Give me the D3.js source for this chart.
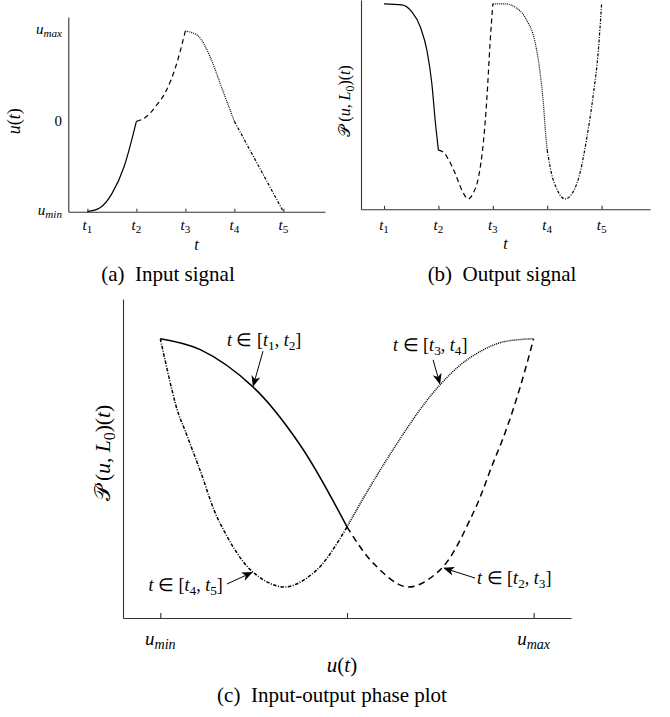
<!DOCTYPE html>
<html>
<head>
<meta charset="utf-8">
<script src="https://cdn.jsdelivr.net/npm/d3@7"></script>
<style>
	body { margin: 0; background: #fff; }
	text { font-family: "Liberation Serif", "Times New Roman", serif; fill: #000; }
</style>
</head>
<body>
<svg id="svg" width="670" height="717"></svg>
<script>
"use strict";

// ---- data ----
// time ticks t1..t5 and input levels umin, 0, umax (umin = -1, umax = 1)
const tTicks = [1, 2, 3, 4, 5];
const uTicks = [-1, 0, 1];
const uTickNames = [["u", "min"], ["0", null], ["u", "max"]];

// (a) input signal u(t), one array per interval
const inT12 = [1, 1.25, 1.5, 1.75, 2];
const inU12 = [-1, -0.96, -0.8, -0.5, 0];
const inT23 = [2, 2.2, 2.4, 2.6, 2.8, 3];
const inU23 = [0, 0.05, 0.17, 0.33, 0.6, 1];
const inT34 = [3, 3.25, 3.5, 3.75, 4];
const inU34 = [1, 0.95, 0.72, 0.36, 0];
const inT45 = [4, 5];
const inU45 = [0, -1];

// (b) output signal P(u,L0)(t), normalised 0 (min) .. 1 (max)
const outT12 = [1, 1.33, 1.51, 1.67, 1.79, 1.88, 1.94, 2];
const outP12 = [1, 0.995, 0.96, 0.88, 0.76, 0.59, 0.405, 0.25];
const outT23 = [2, 2.09, 2.19, 2.31, 2.43, 2.55, 2.64, 2.74, 2.83, 2.89, 2.95, 3];
const outP23 = [0.25, 0.24, 0.2, 0.13, 0.046, 0, 0.03, 0.115, 0.3, 0.51, 0.8, 1];
const outT34 = [3, 3.23, 3.44, 3.62, 3.78, 3.87, 3.93, 3.97, 4];
const outP34 = [1, 1, 0.978, 0.918, 0.8, 0.646, 0.49, 0.337, 0.25];
const outT45 = [4, 4.08, 4.17, 4.33, 4.48, 4.6, 4.72, 4.85, 4.94, 5];
const outP45 = [0.25, 0.13, 0.055, 0, 0.038, 0.13, 0.3, 0.54, 0.76, 1];

// (c) phase plot, P against u, one array pair per interval
const phU12 = [-1, -0.786, -0.504, -0.252, 0];
const phP12 = [1, 0.956, 0.806, 0.573, 0.242];
const phU23 = [0, 0.139, 0.322, 0.499, 0.676, 0.783, 0.847, 0.928, 1];
const phP23 = [0.242, 0.097, 0, 0.069, 0.298, 0.5, 0.621, 0.806, 1];
const phU34 = [0, 0.123, 0.257, 0.391, 0.499, 0.643, 0.82, 1];
const phP34 = [0.242, 0.403, 0.565, 0.714, 0.815, 0.915, 0.984, 1];
const phU45 = [-1, -0.91, -0.869, -0.788, -0.681, -0.504, -0.332, -0.161, 0];
const phP45 = [1, 0.714, 0.633, 0.472, 0.258, 0.06, 0, 0.069, 0.242];

// line style per interval: [t1,t2] solid, [t2,t3] dashed, [t3,t4] dotted, [t4,t5] dash-dot
const intervals = ["12", "23", "34", "45"];

const svg = d3.select("#svg");
svg.append("rect").attr("width", 670).attr("height", 717).attr("fill", "#fff");

// text with italic / subscript pieces
// kinds: i = italic, r = roman, s = roman subscript, si = italic subscript
function mathText(g, parts, size) {
	const txt = g.append("text").attr("font-size", size);
	const drop = size * 0.22;
	let low = false;
	parts.forEach(([s, k]) => {
		const sub = k === "s" || k === "si";
		const ts = txt
			.append("tspan")
			.text(s)
			.attr("font-style", k === "i" || k === "si" ? "italic" : "normal");
		if (sub) {
			ts.attr("font-size", size * 0.74);
			if (!low) ts.attr("dy", drop);
		} else if (low) {
			ts.attr("dy", -drop);
		}
		low = sub;
	});
	return txt;
}

const pLabel = [["\u{1D4AB}\u2009", "r"], ["(", "r"], ["u", "i"], [", ", "r"], ["L", "i"], ["0", "s"], [")(", "r"], ["t", "i"], [")", "r"]];

function dashFor(key, big) {
	if (key === "12") return null;
	if (key === "23") return big ? "6.5,4.5" : "5,3.5";
	if (key === "34") return "1,1";
	return big ? "3.5,1.5,1,1.5" : "3,1.5,1,1.5";
}

function drawAxes(g, x, y, xt, tickLen) {
	g.append("g")
		.attr("transform", `translate(0,${y.range()[0]})`)
		.call(d3.axisBottom(x).tickValues(xt).tickSizeInner(-tickLen).tickSizeOuter(0).tickFormat(""))
		.call((a) => a.selectAll("path,line").attr("stroke", "#333").attr("stroke-width", 1.1));
	g.append("g")
		.attr("transform", `translate(${x.range()[0]},0)`)
		.call(d3.axisLeft(y).tickValues([]).tickSizeOuter(0))
		.call((a) => a.selectAll("path").attr("stroke", "#333").attr("stroke-width", 1.1));
}

function drawSeg(g, xs, ys, x, y, key, width, big, curve) {
	const pts = xs.map((v, i) => [v, ys[i]]).sort((a, b) => a[0] - b[0]);
	const line = d3
		.line()
		.x((d) => x(d[0]))
		.y((d) => y(d[1]))
		.curve(curve);
	g.append("path")
		.datum(pts)
		.attr("d", line)
		.attr("fill", "none")
		.attr("stroke", "#000")
		.attr("stroke-width", width)
		.attr("stroke-dasharray", dashFor(key, big));
}

// ---- (a) input signal ----
const xa = d3.scaleLinear().domain([0.61, 5.85]).range([68.3, 325]);
const ya = d3.scaleLinear().domain([-1, 1.155]).range([211.7, 17]);
const ga = svg.append("g").attr("id", "input");
drawAxes(ga, xa, ya, tTicks, 3);
const inX = { "12": inT12, "23": inT23, "34": inT34, "45": inT45 };
const inY = { "12": inU12, "23": inU23, "34": inU34, "45": inU45 };
intervals.forEach((k) => drawSeg(ga, inX[k], inY[k], xa, ya, k, 1.2, false, d3.curveMonotoneX));

tTicks.forEach((t, i) => {
	mathText(ga, [["t", "i"], [String(i + 1), "s"]], 15)
		.attr("x", xa(t))
		.attr("y", 230)
		.attr("text-anchor", "middle");
});
uTicks.forEach((u, i) => {
	const [b, s] = uTickNames[i];
	const parts = s ? [[b, "i"], [s, "si"]] : [[b, "r"]];
	mathText(ga, parts, 15)
		.attr("x", 62)
		.attr("y", ya(u) + (s ? 3 : 5))
		.attr("text-anchor", "end");
});
mathText(ga, [["t", "i"]], 16).attr("x", 196.5).attr("y", 250).attr("text-anchor", "middle");
mathText(ga, [["u", "i"], ["(", "r"], ["t", "i"], [")", "r"]], 18)
	.attr("text-anchor", "middle")
	.attr("transform", `translate(20,${ya(0)}) rotate(-90)`);
svg.append("text").text("(a)\u2002Input signal").attr("font-size", 21).attr("x", 168).attr("y", 281).attr("text-anchor", "middle");

// ---- (b) output signal ----
const xb = d3.scaleLinear().domain([0.577, 5.89]).range([361, 650]);
const yb = d3.scaleLinear().domain([-0.053, 1.02]).range([209.3, 0]);
const gb = svg.append("g").attr("id", "output");
drawAxes(gb, xb, yb, tTicks, 3.5);
const outX = { "12": outT12, "23": outT23, "34": outT34, "45": outT45 };
const outY = { "12": outP12, "23": outP23, "34": outP34, "45": outP45 };
intervals.forEach((k) => drawSeg(gb, outX[k], outY[k], xb, yb, k, 1.2, false, d3.curveMonotoneX));

tTicks.forEach((t, i) => {
	mathText(gb, [["t", "i"], [String(i + 1), "s"]], 15)
		.attr("x", xb(t))
		.attr("y", 230)
		.attr("text-anchor", "middle");
});
mathText(gb, [["t", "i"]], 16).attr("x", 505.5).attr("y", 249).attr("text-anchor", "middle");
mathText(gb, pLabel, 16)
	.attr("text-anchor", "middle")
	.attr("transform", `translate(350,101) rotate(-90)`);
svg.append("text").text("(b)\u2002Output signal").attr("font-size", 21).attr("x", 502).attr("y", 281).attr("text-anchor", "middle");

// ---- (c) input-output phase plot ----
const xc = d3.scaleLinear().domain([-1.2, 1.2]).range([123, 571]);
const yc = d3.scaleLinear().domain([-0.125, 1.16]).range([618, 299]);
const gc = svg.append("g").attr("id", "phase");
drawAxes(gc, xc, yc, uTicks, 5);
const phX = { "12": phU12, "23": phU23, "34": phU34, "45": phU45 };
const phY = { "12": phP12, "23": phP23, "34": phP34, "45": phP45 };
intervals.forEach((k) => drawSeg(gc, phX[k], phY[k], xc, yc, k, 1.5, true, d3.curveCatmullRom.alpha(0.5)));

[0, 2].forEach((i) => {
	const [b, s] = uTickNames[i];
	mathText(gc, [[b, "i"], [s, "si"]], 19)
		.attr("x", xc(uTicks[i]))
		.attr("y", 645)
		.attr("text-anchor", "middle");
});
mathText(gc, [["u", "i"], ["(", "r"], ["t", "i"], [")", "r"]], 21)
	.attr("x", 342)
	.attr("y", 672)
	.attr("text-anchor", "middle");
mathText(gc, pLabel, 21.5)
	.attr("text-anchor", "middle")
	.attr("transform", `translate(110,453) rotate(-90)`);
svg.append("text").text("(c)\u2002Input-output phase plot").attr("font-size", 21).attr("x", 332).attr("y", 702).attr("text-anchor", "middle");

// annotations: tip on the curve, tail of the arrow, label anchor (all in u, P)
const notes = [
	{ a: "1", b: "2", tip: [-0.504, 0.806], tail: [-0.45, 0.95], at: [-0.643, 0.996], anchor: "start" },
	{ a: "3", b: "4", tip: [0.499, 0.815], tail: [0.461, 0.915], at: [0.247, 0.976], anchor: "start" },
	{ a: "4", b: "5", tip: [-0.504, 0.06], tail: [-0.643, 0.012], at: [-0.665, 0.008], anchor: "end" },
	{ a: "2", b: "3", tip: [0.515, 0.077], tail: [0.686, 0.036], at: [0.697, 0.036], anchor: "start" },
];
notes.forEach((n) => {
	const [x1, y1] = [xc(n.tail[0]), yc(n.tail[1])];
	const [x2, y2] = [xc(n.tip[0]), yc(n.tip[1])];
	const ang = Math.atan2(y2 - y1, x2 - x1);
	const L = 11, W = 4.5, back = 3;
	const ux = Math.cos(ang), uy = Math.sin(ang);
	const bx = x2 - L * ux, by = y2 - L * uy;
	gc.append("line")
		.attr("x1", x1).attr("y1", y1)
		.attr("x2", x2 - (L - back) * ux).attr("y2", y2 - (L - back) * uy)
		.attr("stroke", "#000").attr("stroke-width", 1);
	gc.append("path")
		.attr("d", `M${x2},${y2}L${bx - W * uy},${by + W * ux}L${x2 - (L - back) * ux},${y2 - (L - back) * uy}L${bx + W * uy},${by - W * ux}Z`)
		.attr("fill", "#000");
	mathText(gc, [["t", "i"], [" \u2208 [", "r"], ["t", "i"], [n.a, "s"], [", ", "r"], ["t", "i"], [n.b, "s"], ["]", "r"]], 18)
		.attr("x", xc(n.at[0]))
		.attr("y", yc(n.at[1]) + 6)
		.attr("text-anchor", n.anchor);
});
</script>
</body>
</html>
